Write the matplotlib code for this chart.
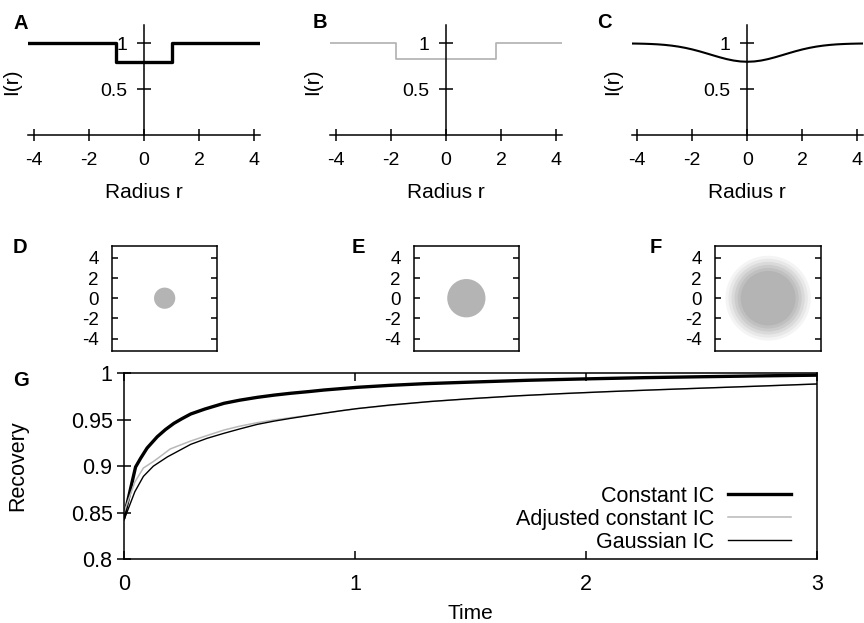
import numpy as np
import matplotlib
matplotlib.use("Agg")
import matplotlib.pyplot as plt
from matplotlib.patches import Circle

plt.rcParams['font.family'] = ['Liberation Sans', 'DejaVu Sans']
plt.rcParams['axes.unicode_minus'] = False
plt.rcParams['axes.linewidth'] = 1.1

# ---- data ----
# A: constant IC, bleach radius 1
r_a = [-4.2, -1.0, 1.0, 4.2]
i_a = [1.0, 0.8, 1.0, 1.0]
# B: adjusted constant IC, bleach radius 1.8
r_b = [-4.2, -1.8, 1.8, 4.2]
i_b = [1.0, 0.83, 1.0, 1.0]
# C: gaussian IC
r_c = [-4.2, -4.0, -3.75, -3.5, -3.25, -3.0, -2.75, -2.5, -2.25, -2.0, -1.75, -1.5, -1.25,
       -1.0, -0.75, -0.5, -0.25, 0.0, 0.25, 0.5, 0.75, 1.0, 1.25, 1.5, 1.75, 2.0, 2.25,
       2.5, 2.75, 3.0, 3.25, 3.5, 3.75, 4.0, 4.2]
i_c = [0.9985, 0.9977, 0.996, 0.9933, 0.9894, 0.9836, 0.9755, 0.9648, 0.951, 0.9342, 0.9146,
       0.8929, 0.8704, 0.8485, 0.8289, 0.8134, 0.8034, 0.800, 0.8034, 0.8134, 0.8289, 0.8485,
       0.8704, 0.8929, 0.9146, 0.9342, 0.951, 0.9648, 0.9755, 0.9836, 0.9894, 0.9933, 0.996,
       0.9977, 0.9985]
r_ticks = [-4, -2, 0, 2, 4]

# D-F: initial particle clouds (radius of filled region)
disk_d = 1.05
disk_e = 1.9
cloud_f_radii = [4.2, 3.9, 3.6, 3.3, 3.0, 2.7]
cloud_f_shades = ['#f4f4f4', '#e8e8e8', '#dadada', '#cccccc', '#c0c0c0', '#b4b4b4']
pos_ticks = [-4, -2, 0, 2, 4]

# G: recovery curves
t_const = [0, 0.05, 0.072, 0.1, 0.144, 0.18, 0.216, 0.25, 0.289, 0.35, 0.433, 0.5, 0.577,
           0.65, 0.722, 0.8, 0.866, 0.94, 1.01, 1.15, 1.3, 1.5, 1.75, 2.0, 2.25, 2.5, 2.75, 3.0]
rec_const = [0.845, 0.899, 0.9085, 0.9195, 0.9317, 0.9395, 0.9461, 0.951, 0.9562, 0.9615,
             0.9677, 0.971, 0.9741, 0.9765, 0.9785, 0.9803, 0.982, 0.9835, 0.9849, 0.987,
             0.9888, 0.9905, 0.9925, 0.994, 0.9953, 0.9963, 0.9972, 0.998]
t_adj = [0, 0.047, 0.084, 0.127, 0.144, 0.2, 0.289, 0.36, 0.433, 0.5, 0.577, 0.65, 0.722,
         0.8, 0.866, 1.01, 1.33, 1.7, 2.1, 2.5, 3.0]
rec_adj = [0.85, 0.883, 0.898, 0.905, 0.908, 0.9185, 0.9271, 0.933, 0.9389, 0.943, 0.9468,
           0.9497, 0.9522, 0.9548, 0.957, 0.962, 0.9697, 0.9757, 0.9803, 0.984, 0.9885]
t_gauss = [0, 0.047, 0.084, 0.127, 0.188, 0.289, 0.36, 0.433, 0.5, 0.577, 0.65, 0.722, 0.8,
           0.866, 0.94, 1.01, 1.15, 1.33, 1.5, 1.7, 1.9, 2.1, 2.3, 2.5, 2.75, 3.0]
rec_gauss = [0.842, 0.8725, 0.889, 0.900, 0.910, 0.9235, 0.930, 0.9354, 0.940, 0.945, 0.9485,
             0.9515, 0.9545, 0.957, 0.9597, 0.962, 0.9658, 0.9697, 0.9727, 0.9757, 0.9782,
             0.9803, 0.9822, 0.984, 0.9862, 0.9885]
t_ticks = [0, 1, 2, 3]
rec_ticks = [0.8, 0.85, 0.9, 0.95, 1.0]

fig = plt.figure(figsize=(8.64, 6.23), dpi=100)
W, H = 864.0, 623.0


def rect(x0, y_top, x1, y_bot):
    return [x0 / W, 1 - y_bot / H, (x1 - x0) / W, (y_bot - y_top) / H]


def profile_axes(box, label_x):
    ax = fig.add_axes(box)
    ax.spines['top'].set_visible(False)
    ax.spines['right'].set_visible(False)
    ax.spines['left'].set_position(('data', 0))
    ax.set_xlim(-4.2, 4.2)
    ax.set_ylim(0, 1.2)
    ax.set_xticks(r_ticks)
    ax.set_yticks([0.5, 1])
    ax.set_yticklabels(['0.5', '1'])
    ax.tick_params(axis='x', direction='inout', length=8, width=1.1, pad=7.8, labelsize=14)
    ax.tick_params(axis='y', direction='inout', length=9.4, width=1.1, pad=7.2, labelsize=14)
    ax.set_xlabel('Radius r', fontsize=15)
    ax.xaxis.set_label_coords(0.5, -0.43)
    ax.set_ylabel('I(r)', fontsize=15)
    ax.yaxis.set_label_coords(label_x, 0.49)
    ax.patch.set_visible(False)
    return ax


axA = profile_axes(rect(28, 25, 260, 135.3), -0.03)
axA.step(r_a, i_a, where='post', color='black', lw=2.4)
axB = profile_axes(rect(330, 25, 561.7, 135.3), -0.036)
axB.step(r_b, i_b, where='post', color='#b0b0b0', lw=1.2)
axC = profile_axes(rect(631.7, 25, 863, 135.3), -0.043)
axC.plot(r_c, i_c, color='black', lw=1.5)


def cloud_axes(box):
    ax = fig.add_axes(box)
    ax.set_xlim(-5.2, 5.2)
    ax.set_ylim(-5.2, 5.2)
    ax.set_xticks([])
    ax.set_yticks(pos_ticks)
    ax.tick_params(axis='y', direction='in', length=4.3, width=1.1, right=True,
                   labelsize=13.5, pad=9.6)
    return ax


axD = cloud_axes(rect(112, 245.7, 217.3, 350.7))
axD.add_patch(Circle((0, 0), disk_d, color='#b4b4b4', lw=0))
axE = cloud_axes(rect(414, 245.7, 518.7, 350.7))
axE.add_patch(Circle((0, 0), disk_e, color='#b4b4b4', lw=0))
axF = cloud_axes(rect(715.3, 245.7, 821, 350.7))
for rad, shade in zip(cloud_f_radii, cloud_f_shades):
    axF.add_patch(Circle((0, 0), rad, color=shade, lw=0))

axG = fig.add_axes(rect(124, 373.3, 817, 559))
axG.plot(t_const, rec_const, color='black', lw=2.4, label='Constant IC')
axG.plot(t_adj, rec_adj, color='#b8b8b8', lw=1.1, label='Adjusted constant IC')
axG.plot(t_gauss, rec_gauss, color='black', lw=1.0, label='Gaussian IC')
axG.set_xlim(0, 3)
axG.set_ylim(0.8, 1.0)
axG.set_xticks(t_ticks)
axG.set_yticks(rec_ticks)
axG.set_yticklabels(['0.8', '0.85', '0.9', '0.95', '1'])
axG.tick_params(axis='x', direction='in', top=True, length=6, width=1.1, pad=11, labelsize=15.5)
axG.tick_params(axis='y', direction='inout', length=9.4, width=1.1, pad=3.5, labelsize=15.5)
axG.set_xlabel('Time', fontsize=15)
axG.xaxis.set_label_coords(0.5, -0.245)
axG.set_ylabel('Recovery', fontsize=15.5)
axG.yaxis.set_label_coords(-0.1385, 0.5)
axG.legend(loc='lower right', bbox_to_anchor=(0.9625, 0.033), frameon=False,
           markerfirst=False, handlelength=2.95, handletextpad=0.6, labelspacing=0.1,
           borderpad=0, borderaxespad=0, fontsize=15.5)

letters = [('A', 14, 14), ('B', 313, 13), ('C', 597, 13),
           ('D', 13, 238), ('E', 352, 238), ('F', 650, 238), ('G', 13, 371)]
for txt, x, y in letters:
    fig.text(x / W, 1 - y / H, txt, fontsize=14.5, fontweight='bold', ha='left', va='top')

fig.savefig('out.png', dpi=100)
